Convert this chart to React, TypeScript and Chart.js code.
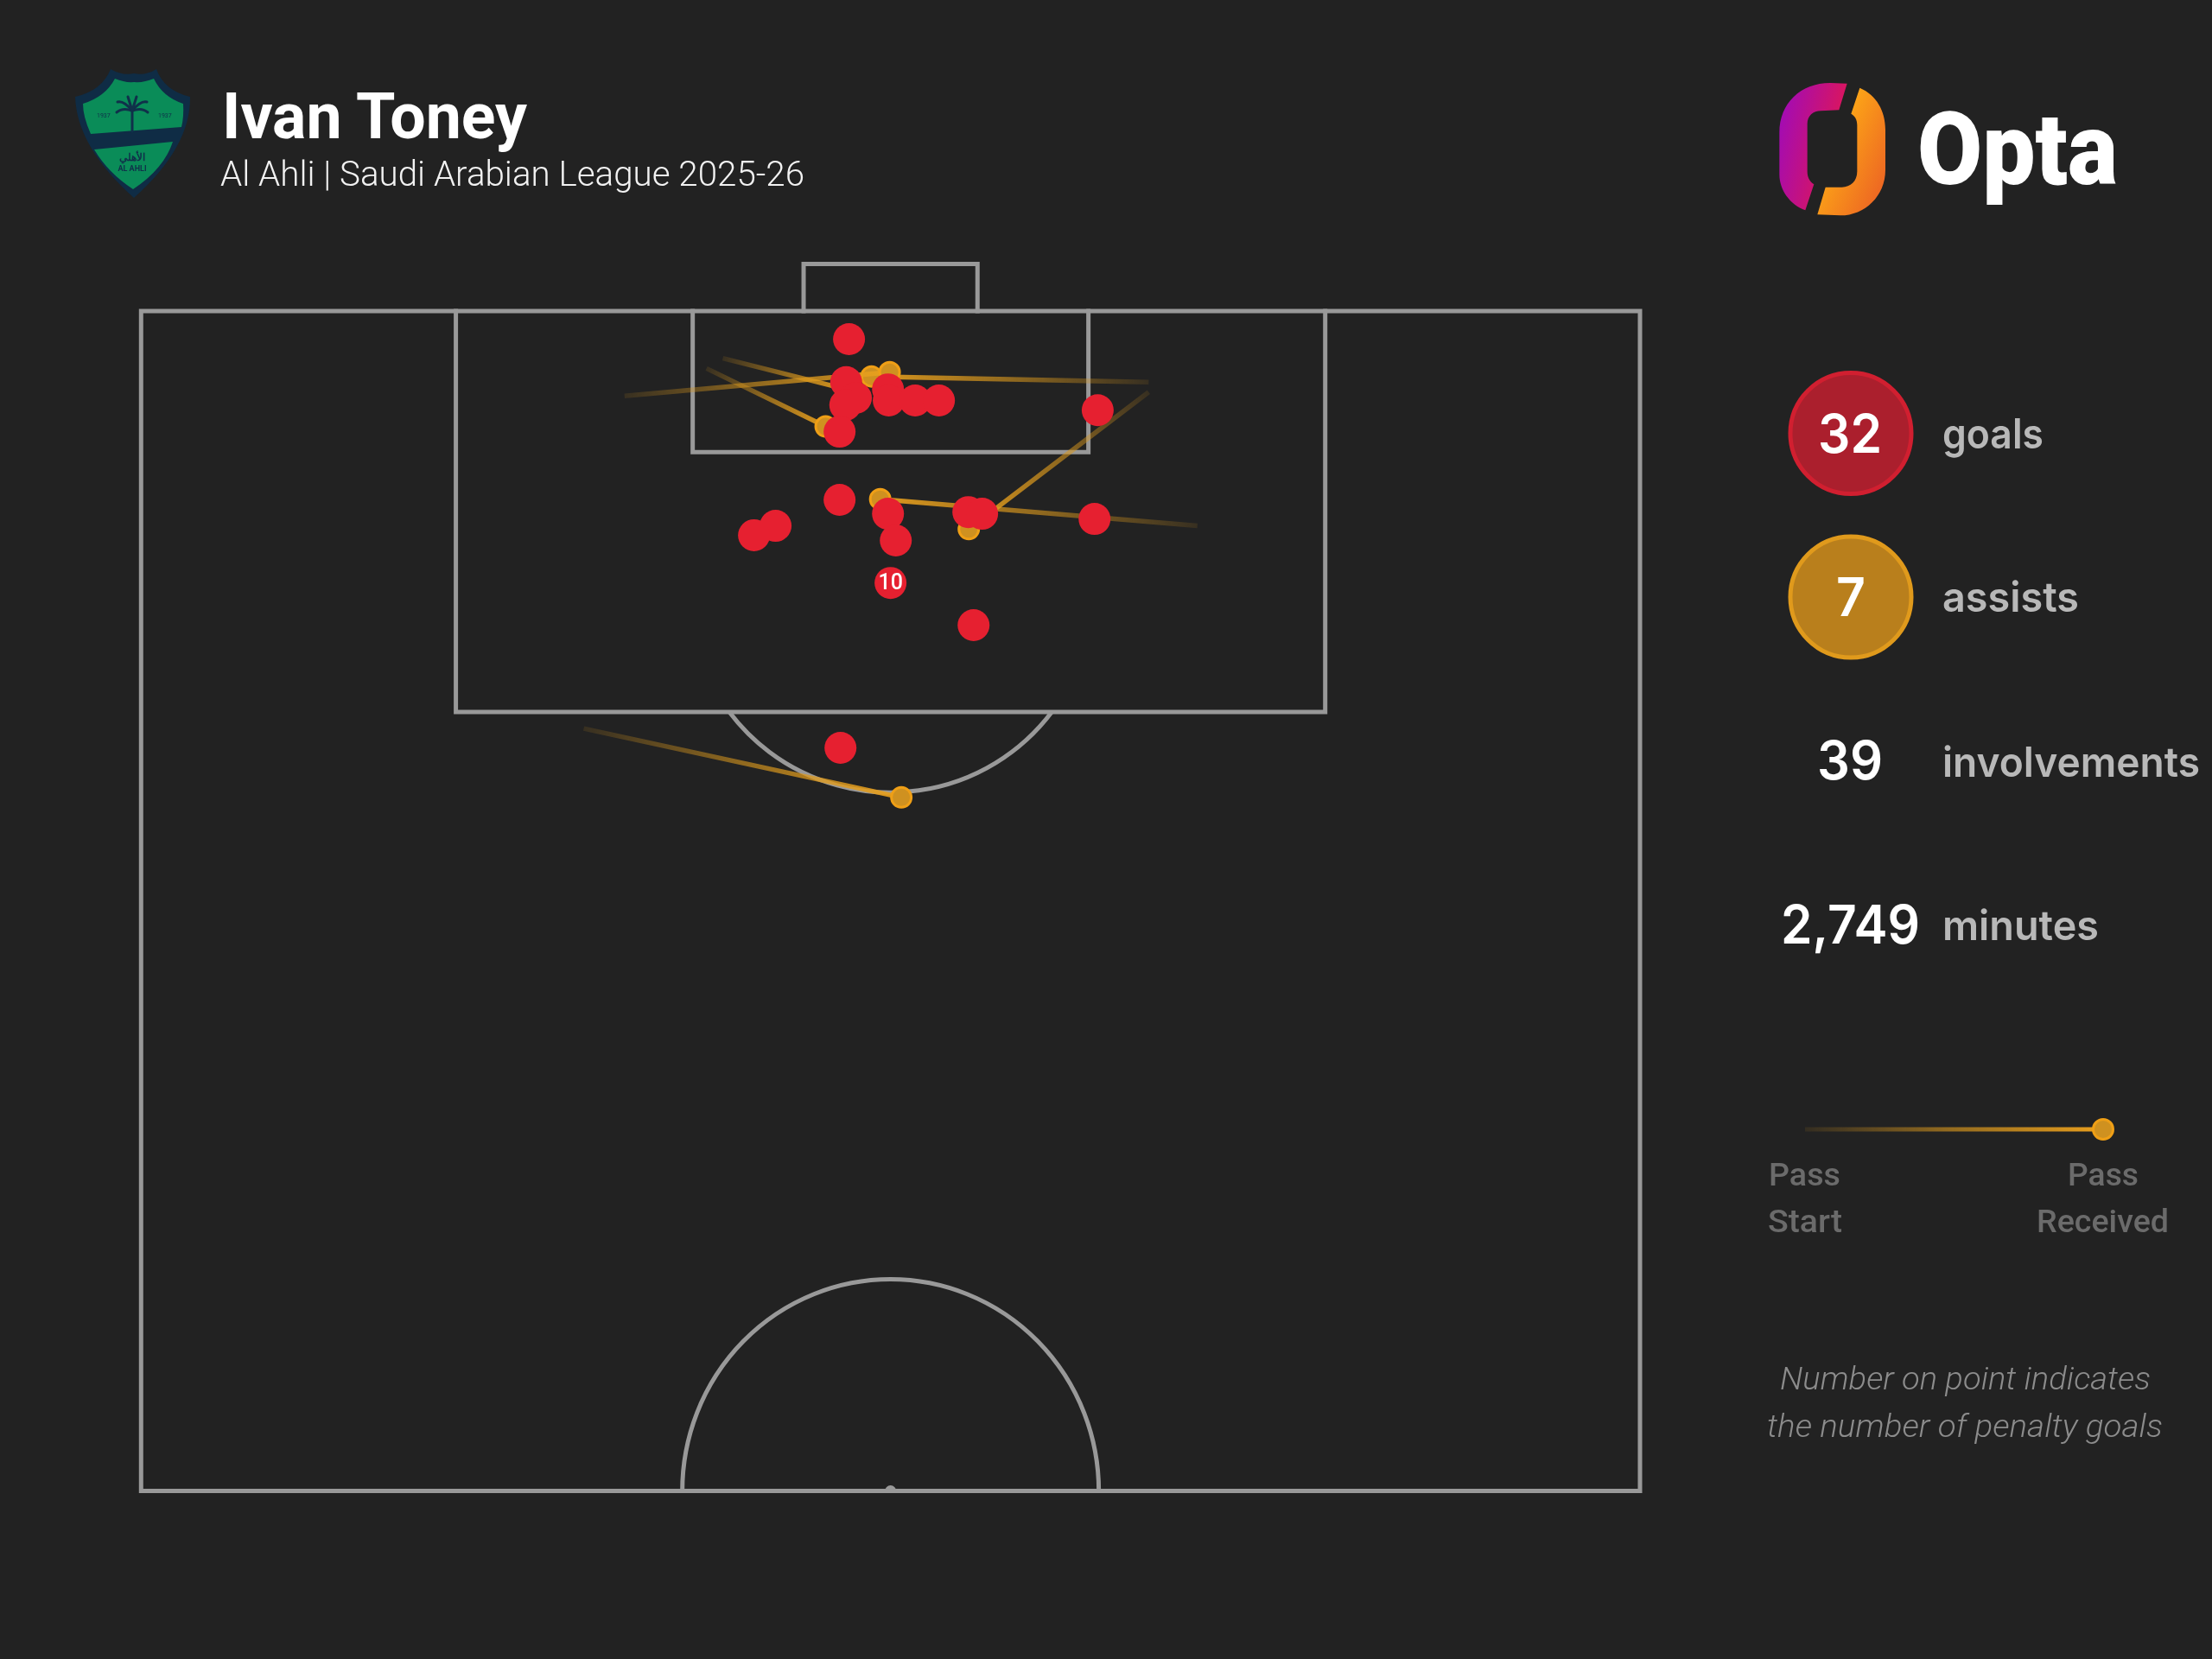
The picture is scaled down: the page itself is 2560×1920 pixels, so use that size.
import React, { useEffect, useRef } from "react";
import { Chart, registerables } from "chart.js";

Chart.register(...registerables);

type P = { x: number; y: number };

// Opta-style pitch coordinates: x across the pitch 0-100, y along it 50-100
const goalX = [47.23, 47.04, 47.69, 46.98, 49.83, 49.88, 51.64, 53.23, 46.6, 63.82, 46.6, 49.83, 50.35, 42.33, 40.89, 55.19, 56.11, 63.61, 55.54, 46.66];
const goalY = [98.81, 96.99, 96.32, 96.02, 96.68, 96.21, 96.21, 96.21, 94.89, 95.8, 92.0, 91.41, 90.28, 90.9, 90.5, 91.48, 91.41, 91.19, 86.69, 81.49];

const penaltySpot: P = { x: 50, y: 88.48 };
const penaltyGoals = 10;

const passStartX = [32.25, 67.22, 38.81, 37.72, 67.22, 70.47, 29.53];
const passStartY = [96.4, 96.99, 98.0, 97.57, 96.57, 90.9, 82.31];
const passEndX = [49.94, 48.73, 47.06, 45.67, 55.22, 49.31, 50.72];
const passEndY = [97.41, 97.23, 96.68, 95.11, 90.76, 92.03, 79.39];

const pitchOutline: P[] = [{ x: 0, y: 100 }, { x: 100, y: 100 }, { x: 100, y: 50 }, { x: 0, y: 50 }, { x: 0, y: 100 }];
const penaltyBox: P[] = [{ x: 21, y: 100 }, { x: 21, y: 83.01 }, { x: 79, y: 83.01 }, { x: 79, y: 100 }];
const sixYardBox: P[] = [{ x: 36.8, y: 100 }, { x: 36.8, y: 94.02 }, { x: 63.2, y: 94.02 }, { x: 63.2, y: 100 }];
const goalFrame: P[] = [{ x: 44.2, y: 100 }, { x: 44.2, y: 102 }, { x: 55.8, y: 102 }, { x: 55.8, y: 100 }];

const stats = [
  { value: "32", label: "goals" },
  { value: "7", label: "assists" },
  { value: "39", label: "involvements" },
  { value: "2,749", label: "minutes" },
];

const BG = "#222222";
const LINE = "#999999";
const RED = "#e62030";
const GOLD = "#cf9120";
const GOLD_EDGE = "#ef9f16";
const FONT = "Roboto, sans-serif";
const WIDE = "Inter, sans-serif";

const pitchArcs = {
  id: "pitchArcs",
  beforeDatasetsDraw(chart: any) {
    const { ctx, scales } = chart;
    const x = scales.x;
    const y = scales.y;
    ctx.save();
    ctx.strokeStyle = LINE;
    ctx.lineWidth = 5;
    const cx = x.getPixelForValue(50);
    // D of the penalty area
    const spotY = y.getPixelForValue(88.15);
    const boxY = y.getPixelForValue(83.01);
    const rD = 233.5;
    const a = Math.acos((boxY - spotY) / rD);
    ctx.beginPath();
    ctx.arc(cx, spotY, rD, Math.PI / 2 - a, Math.PI / 2 + a);
    ctx.stroke();
    // centre circle
    const halfway = y.getPixelForValue(50);
    ctx.beginPath();
    ctx.ellipse(cx, halfway, 241, 245, 0, Math.PI, 2 * Math.PI);
    ctx.stroke();
    ctx.beginPath();
    ctx.fillStyle = LINE;
    ctx.arc(cx, halfway, 6.5, Math.PI, 2 * Math.PI);
    ctx.fill();
    ctx.restore();
  },
};

const penaltyLabel = {
  id: "penaltyLabel",
  afterDatasetsDraw(chart: any) {
    const { ctx, scales } = chart;
    ctx.save();
    ctx.fillStyle = "#ffffff";
    ctx.font = `500 25px ${FONT}`;
    ctx.textAlign = "center";
    ctx.textBaseline = "middle";
    ctx.fillText(String(penaltyGoals), scales.x.getPixelForValue(penaltySpot.x), scales.y.getPixelForValue(penaltySpot.y) + 1);
    ctx.restore();
  },
};

function passGradient(i: number) {
  return (c: any) => {
    const chart = c.chart;
    const x = chart.scales.x;
    const y = chart.scales.y;
    if (!x || !y) return GOLD;
    const x0 = x.getPixelForValue(passStartX[i]);
    const y0 = y.getPixelForValue(passStartY[i]);
    const x1 = x.getPixelForValue(passEndX[i]);
    const y1 = y.getPixelForValue(passEndY[i]);
    if (![x0, y0, x1, y1].every(Number.isFinite)) return GOLD;
    const g = chart.ctx.createLinearGradient(x0, y0, x1, y1);
    g.addColorStop(0, "rgba(214,150,30,0.12)");
    g.addColorStop(0.5, "rgba(214,150,30,0.62)");
    g.addColorStop(1, "rgba(232,160,30,0.95)");
    return g;
  };
}

function lineSet(data: P[]) {
  return {
    type: "scatter",
    data,
    showLine: true,
    borderColor: LINE,
    borderWidth: 5,
    pointRadius: 0,
    borderCapStyle: "square",
    borderJoinStyle: "miter",
    clip: false,
    order: 30,
  };
}

function Txt(p: any) {
  const { x, y, w, size, weight, fill, italic, family, children } = p;
  return (
    <text
      x={x}
      y={y}
      textLength={w}
      lengthAdjust="spacingAndGlyphs"
      fontFamily={family || FONT}
      fontSize={size}
      fontWeight={weight}
      fontStyle={italic ? "italic" : "normal"}
      fill={fill}
    >
      {children}
    </text>
  );
}

function Crest() {
  return (
    <g>
      <path d="M128 80 Q142 88 155 85 Q168 88 181 80 Q190 105 220 112 Q221 170 155 229 Q89 170 87 112 Q118 105 128 80 Z" fill="#0f2c45" />
      <path d="M133 91 Q145 96 155 95 Q166 96 178 91 Q188 112 212 120 Q213 135 210 147 L105 155 Q96 135 96 120 Q122 112 133 91 Z" fill="#0a8c58" />
      <path d="M109 173 L200 164 Q190 195 154 219 Q125 200 109 173 Z" fill="#0a8c58" />
      <g stroke="#10304a" strokeWidth={3} fill="none" strokeLinecap="round">
        <path d="M153 152 L153 128" />
        <path d="M153 128 Q143 116 136 118" />
        <path d="M153 128 Q163 116 170 118" />
        <path d="M153 128 Q142 124 135 130" />
        <path d="M153 128 Q164 124 171 130" />
        <path d="M153 128 L148 112" />
        <path d="M153 128 L158 112" />
      </g>
      <text x={112} y={136} fontSize={7} fontFamily={FONT} fill="#10304a">1937</text>
      <text x={183} y={136} fontSize={7} fontFamily={FONT} fill="#10304a">1937</text>
      <text x={153} y={186} fontSize={12} textAnchor="middle" fontFamily={'"Noto Sans", sans-serif'} fontWeight={700} fill="#10304a">الأهلي</text>
      <text x={153} y={198} fontSize={9} textAnchor="middle" fontFamily={FONT} fontWeight={700} fill="#10304a">AL AHLI</text>
    </g>
  );
}

function OptaMark() {
  return (
    <g transform="translate(2030 70) scale(0.33333)">
      <path
        d="M323 80 L265 78 C160 78 88 150 88 250 L88 395 C88 450 125 500 178 520 L208 430 C192 420 185 405 185 385 L185 220 C185 192 205 175 232 175 L295 172 Z"
        fill="url(#optaL)"
      />
      <path
        d="M367 95 C425 120 456 175 456 240 L456 380 C456 470 385 538 300 538 L220 535 L248 440 L305 440 C335 440 358 420 358 385 L358 225 C358 205 350 192 337 185 Z"
        fill="url(#optaR)"
      />
    </g>
  );
}

function Overlay() {
  const rows = [
    { vx: 2104, vw: 74, vy: 524, lw: 117, ly: 519 },
    { vx: 2125, vw: 34, vy: 713, lw: 158, ly: 708 },
    { vx: 2103, vw: 76, vy: 902, lw: 298, ly: 899 },
    { vx: 2061, vw: 161, vy: 1092, lw: 181, ly: 1088 },
  ];
  return (
    <svg width={2560} height={1920} style={{ position: "absolute", left: 0, top: 0 }}>
      <defs>
        <linearGradient id="optaL" gradientUnits="userSpaceOnUse" x1="88" y1="250" x2="323" y2="300">
          <stop offset="0" stopColor="#a50cb0" />
          <stop offset="1" stopColor="#e4174f" />
        </linearGradient>
        <linearGradient id="optaR" gradientUnits="userSpaceOnUse" x1="225" y1="300" x2="456" y2="400">
          <stop offset="0" stopColor="#ffb015" />
          <stop offset="1" stopColor="#ee6a22" />
        </linearGradient>
        <linearGradient id="legendLine" gradientUnits="userSpaceOnUse" x1="2089" y1="0" x2="2434" y2="0">
          <stop offset="0" stopColor="rgb(214,150,30)" stopOpacity="0.1" />
          <stop offset="0.5" stopColor="rgb(214,150,30)" stopOpacity="0.65" />
          <stop offset="1" stopColor="rgb(235,160,30)" stopOpacity="1" />
        </linearGradient>
      </defs>

      <Crest />
      <Txt x={257} y={160} w={353} size={75} weight={700} fill="#ffffff">Ivan Toney</Txt>
      <Txt x={255} y={215} w={676} size={40} weight={300} fill="#f2f2f2">Al Ahli | Saudi Arabian League 2025-26</Txt>

      <OptaMark />
      <Txt x={2219} y={213} w={232} size={116} weight={900} fill="#ffffff">Opta</Txt>

      <circle cx={2142} cy={501.5} r={70} fill="#ab1f2d" stroke="#d11f30" strokeWidth={5} />
      <circle cx={2142} cy={691} r={70} fill="#b97f1c" stroke="#e09a1c" strokeWidth={5} />

      {stats.map((s, i) => (
        <g key={s.label}>
          <Txt x={rows[i].vx} y={rows[i].vy} w={rows[i].vw} size={62} weight={600} family={WIDE} fill="#ffffff">{s.value}</Txt>
          <Txt x={2248} y={rows[i].ly} w={rows[i].lw} size={48} weight={600} family={WIDE} fill="#b8b8b8">{s.label}</Txt>
        </g>
      ))}

      <line x1={2089} x2={2425} y1={1307} y2={1307} stroke="url(#legendLine)" strokeWidth={5} />
      <circle cx={2434} cy={1307} r={11.5} fill={GOLD} stroke={GOLD_EDGE} strokeWidth={3} />
      <Txt x={2047} y={1372} w={83} size={37} weight={500} fill="#6b6b6b">Pass</Txt>
      <Txt x={2046} y={1426} w={86} size={37} weight={500} fill="#6b6b6b">Start</Txt>
      <Txt x={2393} y={1372} w={82} size={37} weight={500} fill="#6b6b6b">Pass</Txt>
      <Txt x={2357} y={1426} w={153} size={37} weight={500} fill="#6b6b6b">Received</Txt>

      <Txt x={2060} y={1608} w={429} size={37} weight={300} italic fill="#8c8c8c">Number on point indicates</Txt>
      <Txt x={2045} y={1663} w={458} size={37} weight={300} italic fill="#8c8c8c">the number of penalty goals</Txt>
    </svg>
  );
}

export default function App() {
  const ref = useRef<HTMLCanvasElement>(null);

  useEffect(() => {
    document.body.style.margin = "0";
    document.body.style.background = BG;

    const goals = goalX.map((x, i) => ({ x, y: goalY[i] }));
    goals.push(penaltySpot);

    const passes = passStartX.map((_, i) => ({
      type: "scatter",
      data: [
        { x: passStartX[i], y: passStartY[i] },
        { x: passEndX[i], y: passEndY[i] },
      ],
      showLine: true,
      borderColor: passGradient(i),
      borderWidth: 5.5,
      pointRadius: [0, 11.5],
      pointBackgroundColor: GOLD,
      pointBorderColor: GOLD_EDGE,
      pointBorderWidth: 3,
      clip: false,
      order: 10,
    }));

    const chart = new Chart(ref.current as HTMLCanvasElement, {
      type: "scatter",
      data: {
        datasets: [
          {
            label: "Goals",
            data: goals,
            pointRadius: 18.5,
            pointBackgroundColor: RED,
            pointBorderWidth: 0,
            clip: false,
            order: 1,
          },
          ...passes,
          lineSet(pitchOutline),
          lineSet(penaltyBox),
          lineSet(sixYardBox),
          lineSet(goalFrame),
        ] as any,
      },
      options: {
        responsive: false,
        animation: false,
        layout: { padding: { left: 163.3, right: 662, top: 305.4, bottom: 194.5 } },
        plugins: { legend: { display: false }, tooltip: { enabled: false } },
        scales: {
          x: { type: "linear", min: 0, max: 100, display: false },
          y: { type: "linear", min: 50, max: 102, display: false },
        },
      },
      plugins: [pitchArcs, penaltyLabel],
    });
    chart.update("none");
    return () => chart.destroy();
  }, []);

  return (
    <div style={{ position: "relative", width: 2560, height: 1920, background: BG }}>
      <canvas ref={ref} width={2560} height={1920} style={{ position: "absolute", left: 0, top: 0 }} />
      <Overlay />
    </div>
  );
}
